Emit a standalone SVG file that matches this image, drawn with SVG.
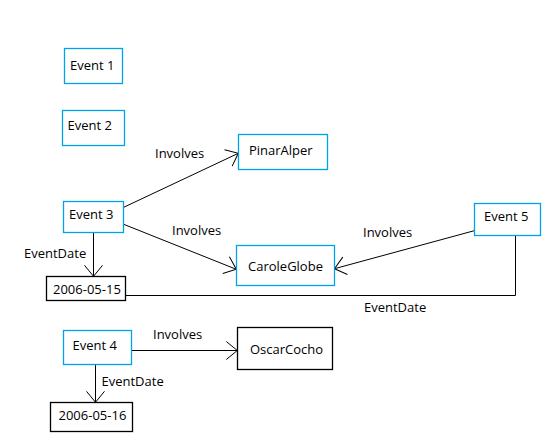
<svg xmlns="http://www.w3.org/2000/svg" width="556" height="443" viewBox="0 0 556 443">
<style>
.ev{fill:#fff;stroke:#00a2e8;stroke-width:1.3}
.lit{fill:#fff;stroke:#000;stroke-width:1.3}
.t{font-family:"Open Sans","Noto Sans",sans-serif;font-size:13px;fill:#000}
.c{fill:none;stroke:#000;stroke-width:1}
</style>
<defs>
<marker id="a" markerUnits="userSpaceOnUse" markerWidth="30" markerHeight="30" viewBox="-15 -15 30 30" refX="0" refY="0" orient="auto">
<path d="M-11,-9 L0,0 L-11,9" fill="none" stroke="#000" stroke-width="1"/>
</marker>
</defs>
<rect width="556" height="443" fill="#fff"/>
<g id="connectors">
<line class="c" x1="123.7" y1="207.3" x2="238.3" y2="153.3" marker-end="url(#a)"/>
<line class="c" x1="123.7" y1="224.3" x2="236.3" y2="269.3" marker-end="url(#a)"/>
<line class="c" x1="93.5" y1="232.5" x2="93.5" y2="276.3" marker-end="url(#a)"/>
<line class="c" x1="474.3" y1="230.7" x2="334.5" y2="268.7" marker-end="url(#a)"/>
<polyline class="c" points="515.5,235.5 515.5,295.5 125.7,295.5"/>
<line class="c" x1="131.7" y1="350.5" x2="237.3" y2="350.5" marker-end="url(#a)"/>
<line class="c" x1="95.5" y1="365" x2="95.5" y2="402.3" marker-end="url(#a)"/>
<text class="t" x="155" y="158">Involves</text>
<text class="t" x="172" y="234.5">Involves</text>
<text class="t" x="24" y="257.5">EventDate</text>
<text class="t" x="363" y="237">Involves</text>
<text class="t" x="364" y="311.5">EventDate</text>
<text class="t" x="153" y="338.5">Involves</text>
<text class="t" x="101.5" y="385.5">EventDate</text>
</g>
<g id="event1"><rect class="ev" x="64.5" y="48.5" width="58" height="35"/><text class="t" x="70" y="69.5">Event 1</text></g>
<g id="event2"><rect class="ev" x="62.5" y="110.5" width="62" height="35"/><text class="t" x="67.5" y="129.5">Event 2</text></g>
<g id="pinaralper"><rect class="ev" x="238.5" y="134.5" width="89" height="35"/><text class="t" x="249" y="155">PinarAlper</text></g>
<g id="event3"><rect class="ev" x="63.5" y="201.5" width="60" height="31"/><text class="t" x="69" y="218.5">Event 3</text></g>
<g id="caroleglobe"><rect class="ev" x="236.5" y="245.5" width="98" height="40"/><text class="t" x="248" y="271">CaroleGlobe</text></g>
<g id="date1"><rect class="lit" x="46.5" y="276.5" width="79" height="24"/><text class="t" x="53" y="293.5">2006-05-15</text></g>
<g id="event5"><rect class="ev" x="474.5" y="203.5" width="66" height="32"/><text class="t" x="484" y="221">Event 5</text></g>
<g id="event4"><rect class="ev" x="63.5" y="330.5" width="68" height="34"/><text class="t" x="72.5" y="349.5">Event 4</text></g>
<g id="oscarcocho"><rect class="lit" x="237.5" y="327.5" width="95" height="42"/><text class="t" x="250" y="353.5">OscarCocho</text></g>
<g id="date2"><rect class="lit" x="50.5" y="402.5" width="82" height="29"/><text class="t" x="58.5" y="420">2006-05-16</text></g>
</svg>
